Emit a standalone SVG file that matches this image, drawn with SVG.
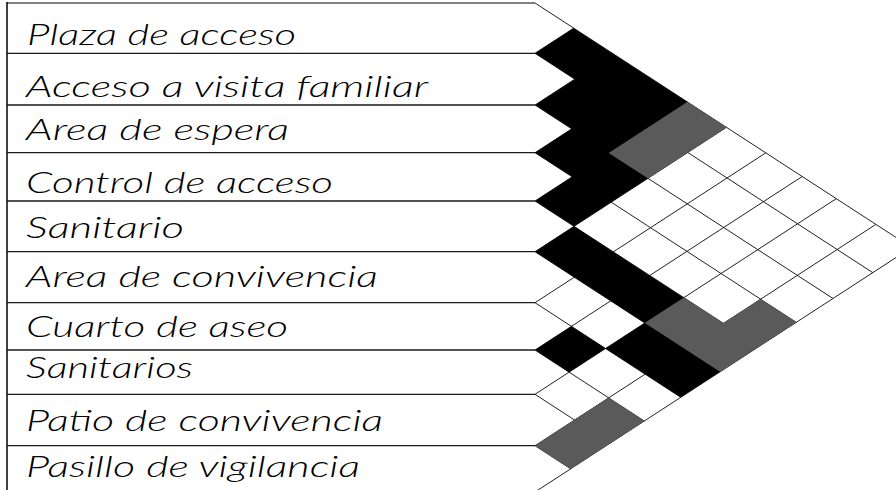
<svg xmlns="http://www.w3.org/2000/svg" width="896" height="490" viewBox="0 0 896 490">
<style>
.lbl{font-family:Lato,"Open Sans","Liberation Sans",sans-serif;font-style:italic;font-weight:300;font-size:28.5px;fill:#000}
.row{stroke:#1a1a1a;stroke-width:1.3;fill:none}
.grid{stroke:#222;stroke-width:1;fill:none}
.blk{fill:#000}
.gry{fill:#5a5a5a}
</style>
<rect x="0" y="0" width="896" height="490" fill="#fff"/>
<g id="frame">
<line x1="7" y1="3" x2="535" y2="3" stroke="#808080" stroke-width="2"/>
<line x1="7" y1="2" x2="7" y2="490" stroke="#000" stroke-width="1.5"/>
<line class="row" x1="7" y1="53.3" x2="535" y2="53.3"/>
<line class="row" x1="7" y1="105" x2="535" y2="105"/>
<line class="row" x1="7" y1="152.7" x2="535" y2="152.7"/>
<line class="row" x1="7" y1="201" x2="535" y2="201"/>
<line class="row" x1="7" y1="251.7" x2="535" y2="251.7"/>
<line class="row" x1="7" y1="302.7" x2="535" y2="302.7"/>
<line class="row" x1="7" y1="350" x2="535" y2="350"/>
<line class="row" x1="7" y1="394.3" x2="535" y2="394.3"/>
<line class="row" x1="7" y1="445.7" x2="535" y2="445.7"/>
</g>
<g id="n0"><text class="lbl" x="27" y="45" textLength="269" lengthAdjust="spacingAndGlyphs">Plaza de acceso</text></g>
<g id="n1"><text class="lbl" x="26" y="96.5" textLength="402" lengthAdjust="spacingAndGlyphs">Acceso a visita familiar</text></g>
<g id="n2"><text class="lbl" x="26" y="140" textLength="263" lengthAdjust="spacingAndGlyphs">Area de espera</text></g>
<g id="n3"><text class="lbl" x="26" y="192.5" textLength="307" lengthAdjust="spacingAndGlyphs">Control de acceso</text></g>
<g id="n4"><text class="lbl" x="26" y="237.5" textLength="158" lengthAdjust="spacingAndGlyphs">Sanitario</text></g>
<g id="n5"><text class="lbl" x="26" y="286.7" textLength="352" lengthAdjust="spacingAndGlyphs">Area de convivencia</text></g>
<g id="n6"><text class="lbl" x="26" y="336.7" textLength="262" lengthAdjust="spacingAndGlyphs">Cuarto de aseo</text></g>
<g id="n7"><text class="lbl" x="26" y="378.3" textLength="167" lengthAdjust="spacingAndGlyphs">Sanitarios</text></g>
<g id="n8"><text class="lbl" x="26" y="430.5" textLength="357" lengthAdjust="spacingAndGlyphs">Patio de convivencia</text></g>
<g id="n9"><text class="lbl" x="26" y="477.3" textLength="334" lengthAdjust="spacingAndGlyphs">Pasillo de vigilancia</text></g>
<g id="connectors">
<g class="grid">
<line x1="535" y1="3" x2="911.5" y2="247.5"/>
<line x1="535" y1="53.3" x2="872.8" y2="272.65"/>
<line x1="535" y1="105" x2="833.0" y2="298.5"/>
<line x1="535" y1="152.7" x2="796.3" y2="322.35"/>
<line x1="535" y1="201" x2="759.1" y2="346.5"/>
<line x1="535" y1="251.7" x2="720.0" y2="371.85"/>
<line x1="535" y1="302.7" x2="680.8" y2="397.35"/>
<line x1="535" y1="350" x2="644.3" y2="421"/>
<line x1="535" y1="394.3" x2="610.2" y2="443.15"/>
<line x1="535" y1="445.7" x2="570.7" y2="468.85"/>
<line x1="535" y1="53.3" x2="573.7" y2="28.15"/>
<line x1="535" y1="105" x2="613.5" y2="54"/>
<line x1="535" y1="152.7" x2="650.3" y2="77.85"/>
<line x1="535" y1="201" x2="687.5" y2="102"/>
<line x1="535" y1="251.7" x2="726.5" y2="127.35"/>
<line x1="535" y1="302.7" x2="765.8" y2="152.85"/>
<line x1="535" y1="350" x2="802.2" y2="176.5"/>
<line x1="535" y1="394.3" x2="836.3" y2="198.65"/>
<line x1="535" y1="445.7" x2="875.9" y2="224.35"/>
<line x1="535" y1="492" x2="911.5" y2="247.5"/>
</g>
<polygon class="blk" points="573.7,28.15 687.5,102 608.9,153 648.0,178.35 574.0,226.35 535,201 572.2,176.85 535,152.7 571.7,128.85 535,105 574.8,79.15 535,53.3"/>
<polygon class="gry" points="687.5,102 726.5,127.35 648.0,178.35 608.9,153"/>
<polygon class="blk" points="574.0,226.35 683.8,297.65 644.8,323 535,251.7"/>
<polygon class="gry" points="644.8,323 683.8,297.65 723.4,323.35 760.6,299.2 796.3,322.35 720.0,371.85"/>
<polygon class="blk" points="644.8,323 720.0,371.85 680.8,397.35 605.5,348.5"/>
<polygon class="blk" points="571.4,326.35 605.5,348.5 569.1,372.15 535,350"/>
<polygon class="gry" points="608.7,397.85 644.3,421 570.7,468.85 535,445.7"/>
</g>
</svg>
